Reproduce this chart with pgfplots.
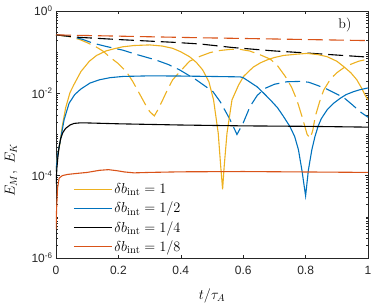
\documentclass[border=0pt]{standalone}
\usepackage{pgfplots}
\pgfplotsset{compat=1.18}
\usepackage{fontspec}
\newfontfamily\helv{Liberation Sans}
\definecolor{myY}{rgb}{0.929,0.694,0.125}
\definecolor{myB}{rgb}{0,0.447,0.741}
\definecolor{myO}{rgb}{0.85,0.325,0.098}
\definecolor{axgray}{rgb}{0.15,0.15,0.15}
\begin{document}
\begin{tikzpicture}
\begin{axis}[
 scale only axis, width=312pt, height=247pt,
 xmin=0, xmax=1, ymin=1e-6, ymax=1, ymode=log,
 xtick={0,0.2,0.4,0.6,0.8,1}, xticklabels={0,0.2,0.4,0.6,0.8,1},
 ytick={1e-6,1e-4,1e-2,1},
 yticklabels={10\textsuperscript{-6},10\textsuperscript{-4},10\textsuperscript{-2},10\textsuperscript{0}},
 minor ytick={2e-6,3e-6,4e-6,5e-6,6e-6,7e-6,8e-6,9e-6,1e-5,2e-5,3e-5,4e-5,5e-5,6e-5,7e-5,8e-5,9e-5,2e-4,3e-4,4e-4,5e-4,6e-4,7e-4,8e-4,9e-4,1e-3,2e-3,3e-3,4e-3,5e-3,6e-3,7e-3,8e-3,9e-3,2e-2,3e-2,4e-2,5e-2,6e-2,7e-2,8e-2,9e-2,0.1,0.2,0.3,0.4,0.5,0.6,0.7,0.8,0.9},
 tick label style={font=\helv\fontsize{12}{14}\selectfont, text=axgray},
 xticklabel style={yshift=-5pt},
 axis line style={axgray, line width=0.5pt},
 tick style={axgray, line width=0.5pt},
 major tick length=3.5pt, minor tick length=2pt,
 xlabel={$t/\tau_A$}, ylabel={$E_M,\ E_K$},
 label style={font=\fontsize{14}{16}\selectfont},
 ylabel style={at={(rel axis cs:-0.144,0.356)}, anchor=center},
 xlabel style={at={(rel axis cs:0.5,-0.154)}, anchor=center},
 legend style={draw=none, fill=none, at={(rel axis cs:0.045,0.003)}, anchor=south west,
   font=\fontsize{15}{17}\selectfont, row sep=3pt, cells={anchor=west}},
 legend image code/.code={\draw[#1] (0pt,0pt) -- (38pt,0pt);},
 every axis plot/.append style={line width=1.1pt},
]
\coordinate (SW) at (rel axis cs:0,0);
\coordinate (NE) at (rel axis cs:1,1);
% dashed (E_K)
\addplot[myY, dash pattern=on 15pt off 6pt, forget plot] coordinates {
(0,0.263)(0.04,0.240)(0.075,0.204)(0.1,0.170)(0.128,0.135)(0.15,0.107)(0.171,7.76e-2)(0.2,5.25e-2)(0.225,3.39e-2)(0.245,2.00e-2)(0.267,1.00e-2)(0.285,5.62e-3)(0.30,3.63e-3)(0.315,2.82e-3)(0.328,4.17e-3)(0.342,6.92e-3)(0.358,1.26e-2)(0.374,2.14e-2)(0.4,3.55e-2)(0.428,6.03e-2)(0.462,7.94e-2)(0.494,9.77e-2)(0.526,0.110)(0.56,0.117)(0.59,0.117)(0.62,0.107)(0.65,8.91e-2)(0.687,6.76e-2)(0.71,4.68e-2)(0.735,2.57e-2)(0.755,1.41e-2)(0.772,6.92e-3)(0.79,2.51e-3)(0.805,1.00e-3)(0.815,8.13e-4)(0.823,1.26e-3)(0.831,2.75e-3)(0.845,6.31e-3)(0.858,1.20e-2)(0.88,2.24e-2)(0.9,3.16e-2)(0.922,4.17e-2)(0.943,5.01e-2)(0.97,6.03e-2)(1.0,6.76e-2)};
\addplot[myB, dash pattern=on 15pt off 6pt, forget plot] coordinates {
(0,0.263)(0.05,0.240)(0.086,0.204)(0.118,0.166)(0.16,0.138)(0.214,0.112)(0.26,8.71e-2)(0.32,6.46e-2)(0.36,5.01e-2)(0.396,3.72e-2)(0.449,2.14e-2)(0.503,1.10e-2)(0.526,6.31e-3)(0.558,2.29e-3)(0.58,1.00e-3)(0.6,1.91e-3)(0.622,4.79e-3)(0.645,8.91e-3)(0.67,1.32e-2)(0.7,1.66e-2)(0.74,1.91e-2)(0.783,1.95e-2)(0.81,1.86e-2)(0.836,1.58e-2)(0.869,1.26e-2)(0.895,1.00e-2)(0.922,7.94e-3)(0.95,5.25e-3)(0.975,3.55e-3)(1.0,2.63e-3)};
\addplot[black, dash pattern=on 15pt off 6pt, forget plot] coordinates {
(0,0.263)(0.075,0.229)(0.214,0.200)(0.374,0.174)(0.462,0.158)(0.569,0.129)(0.7,0.107)(0.783,9.77e-2)(0.9,8.51e-2)(1.0,7.59e-2)};
\addplot[myO, dash pattern=on 15pt off 6pt, forget plot] coordinates {
(0,0.263)(0.2,0.245)(0.46,0.224)(0.7,0.209)(1.0,0.191)};
% solid (E_M)
\addplot[myY] coordinates {
(0,1.26e-4)(0.005,3.16e-4)(0.013,6.31e-4)(0.02,1.58e-3)(0.031,4.47e-3)(0.045,1.05e-2)(0.058,1.66e-2)(0.08,3.39e-2)(0.107,6.03e-2)(0.13,8.32e-2)(0.16,0.107)(0.19,0.123)(0.214,0.135)(0.25,0.145)(0.3,0.150)(0.34,0.141)(0.374,0.124)(0.40,0.102)(0.428,7.76e-2)(0.45,5.62e-2)(0.47,3.72e-2)(0.49,1.91e-2)(0.505,6.92e-3)(0.52,1.07e-3)(0.528,1.66e-4)(0.534,4.68e-5)(0.539,1.66e-4)(0.548,1.07e-3)(0.564,6.92e-3)(0.585,1.58e-2)(0.601,2.57e-2)(0.62,3.55e-2)(0.633,4.37e-2)(0.655,5.50e-2)(0.676,6.46e-2)(0.70,7.41e-2)(0.729,8.32e-2)(0.77,8.91e-2)(0.804,9.33e-2)(0.84,8.71e-2)(0.869,7.76e-2)(0.9,6.03e-2)(0.922,4.47e-2)(0.945,3.16e-2)(0.964,2.14e-2)(0.98,1.32e-2)(0.991,8.91e-3)(1.0,6.92e-3)};
\addlegendentry{$\delta b_{\mathrm{int}}=1$}
\addplot[myB] coordinates {
(0,1.26e-4)(0.005,3.16e-4)(0.015,7.94e-4)(0.026,2.29e-3)(0.042,5.75e-3)(0.06,9.33e-3)(0.079,1.26e-2)(0.109,1.78e-2)(0.14,2.14e-2)(0.173,2.40e-2)(0.214,2.57e-2)(0.3,2.66e-2)(0.4,2.63e-2)(0.5,2.57e-2)(0.59,2.51e-2)(0.6,2.40e-2)(0.62,1.91e-2)(0.644,1.45e-2)(0.665,1.02e-2)(0.687,6.92e-3)(0.71,4.47e-3)(0.729,2.75e-3)(0.75,1.55e-3)(0.765,8.91e-4)(0.777,4.27e-4)(0.788,1.38e-4)(0.8,3.24e-5)(0.809,1.38e-4)(0.82,4.27e-4)(0.83,8.91e-4)(0.84,1.58e-3)(0.85,2.40e-3)(0.869,3.98e-3)(0.89,5.75e-3)(0.911,7.59e-3)(0.93,9.33e-3)(0.954,1.10e-2)(0.975,1.23e-2)(1.0,1.35e-2)};
\addlegendentry{$\delta b_{\mathrm{int}}=1/2$}
\addplot[black] coordinates {
(0,6.31e-5)(0.003,1.58e-4)(0.006,2.82e-4)(0.01,5.01e-4)(0.015,7.94e-4)(0.022,1.12e-3)(0.031,1.41e-3)(0.045,1.70e-3)(0.058,1.86e-3)(0.075,1.91e-3)(0.1,1.91e-3)(0.2,1.82e-3)(0.4,1.70e-3)(0.6,1.62e-3)(0.8,1.58e-3)(1.0,1.51e-3)};
\addlegendentry{$\delta b_{\mathrm{int}}=1/4$}
\addplot[myO] coordinates {
(0,5.01e-6)(0.002,1.58e-5)(0.005,5.01e-5)(0.01,8.71e-5)(0.02,1.00e-4)(0.036,1.07e-4)(0.06,1.12e-4)(0.1,1.20e-4)(0.14,1.35e-4)(0.168,1.40e-4)(0.195,1.32e-4)(0.22,1.23e-4)(0.25,1.17e-4)(0.3,1.20e-4)(0.4,1.24e-4)(0.6,1.26e-4)(0.8,1.23e-4)(1.0,1.20e-4)};
\addlegendentry{$\delta b_{\mathrm{int}}=1/8$}
\node[font=\fontsize{14}{16}\selectfont] at (rel axis cs:0.926,0.943) {b)};
\end{axis}
\pgfresetboundingbox
\useasboundingbox ([shift={(-56pt,-47pt)}]SW) rectangle ([shift={(6pt,11pt)}]NE);
\end{tikzpicture}
\end{document}
